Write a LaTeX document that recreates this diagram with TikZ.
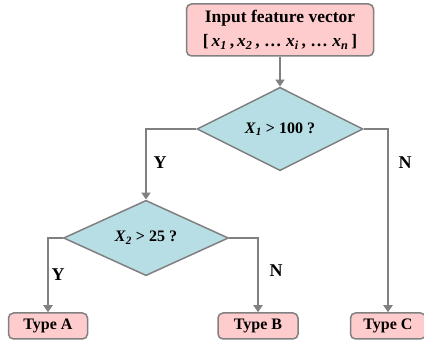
\documentclass[tikz,border=0pt]{standalone}
\usepackage{fontspec}
\setmainfont{Liberation Serif}
\usepackage{tikz}
\usetikzlibrary{shapes.geometric,arrows.meta}

\definecolor{boxpink}{RGB}{255,204,206}
\definecolor{diacyan}{RGB}{183,222,228}
\definecolor{linegray}{RGB}{128,128,128}

\newcommand{\vx}[1]{\textit{x}\textsubscript{\textit{#1}}}
\newcommand{\vX}[1]{\textit{X}\textsubscript{\textit{#1}}}

\tikzset{
  termbox/.style={draw=linegray, fill=boxpink, line width=1.5pt, rounded corners=5pt,
    font=\fontsize{16}{19}\selectfont\bfseries, align=center, inner sep=0pt},
  testbox/.style={diamond, draw=linegray, fill=diacyan, line width=1.5pt,
    font=\fontsize{16}{19}\selectfont\bfseries, inner sep=0pt},
  flow/.style={draw=linegray, line width=2.4pt, -{Triangle[length=7pt,width=9pt]}},
  branch/.style={font=\fontsize{18}{20}\selectfont\bfseries}
}

\begin{document}
\begin{tikzpicture}[x=1pt,y=1pt]
\useasboundingbox (0,0) rectangle (424,343);

% nodes
\node[termbox, minimum width=187pt, minimum height=52pt, font=\fontsize{17.5}{24}\selectfont\bfseries] (input) at (280,313)
  {Input feature vector\\{[}\,\vx{1}\,,\,\vx{2}\,, \dots\ \vx{i}\,, \dots\ \vx{n}\,{]}};
\node[testbox, minimum width=166pt, minimum height=67pt] (test1) at (280,214) {\vX{1} > 100 ?};
\node[testbox, minimum width=165pt, minimum height=66pt] (test2) at (146,105) {\vX{2} > 25 ?};
\node[termbox, minimum width=79pt, minimum height=26pt] (typeA) at (48,17) {Type A};
\node[termbox, minimum width=80pt, minimum height=26pt] (typeB) at (258,17) {Type B};
\node[termbox, minimum width=75pt, minimum height=26pt] (typeC) at (388,17) {Type C};

% connectors
\draw[flow] (input) -- (test1);
\draw[flow] (test1.west) -| (test2.north);
\draw[flow] (test1.east) -| (typeC.north);
\draw[flow] (test2.west) -| (typeA.north);
\draw[flow] (test2.east) -| (typeB.north);

% branch labels
\node[branch] (y1) at (160,180) {Y};
\node[branch] (n1) at (405,180) {N};
\node[branch] (y2) at (58,68) {Y};
\node[branch] (n2) at (276,72) {N};

\end{tikzpicture}
\end{document}
